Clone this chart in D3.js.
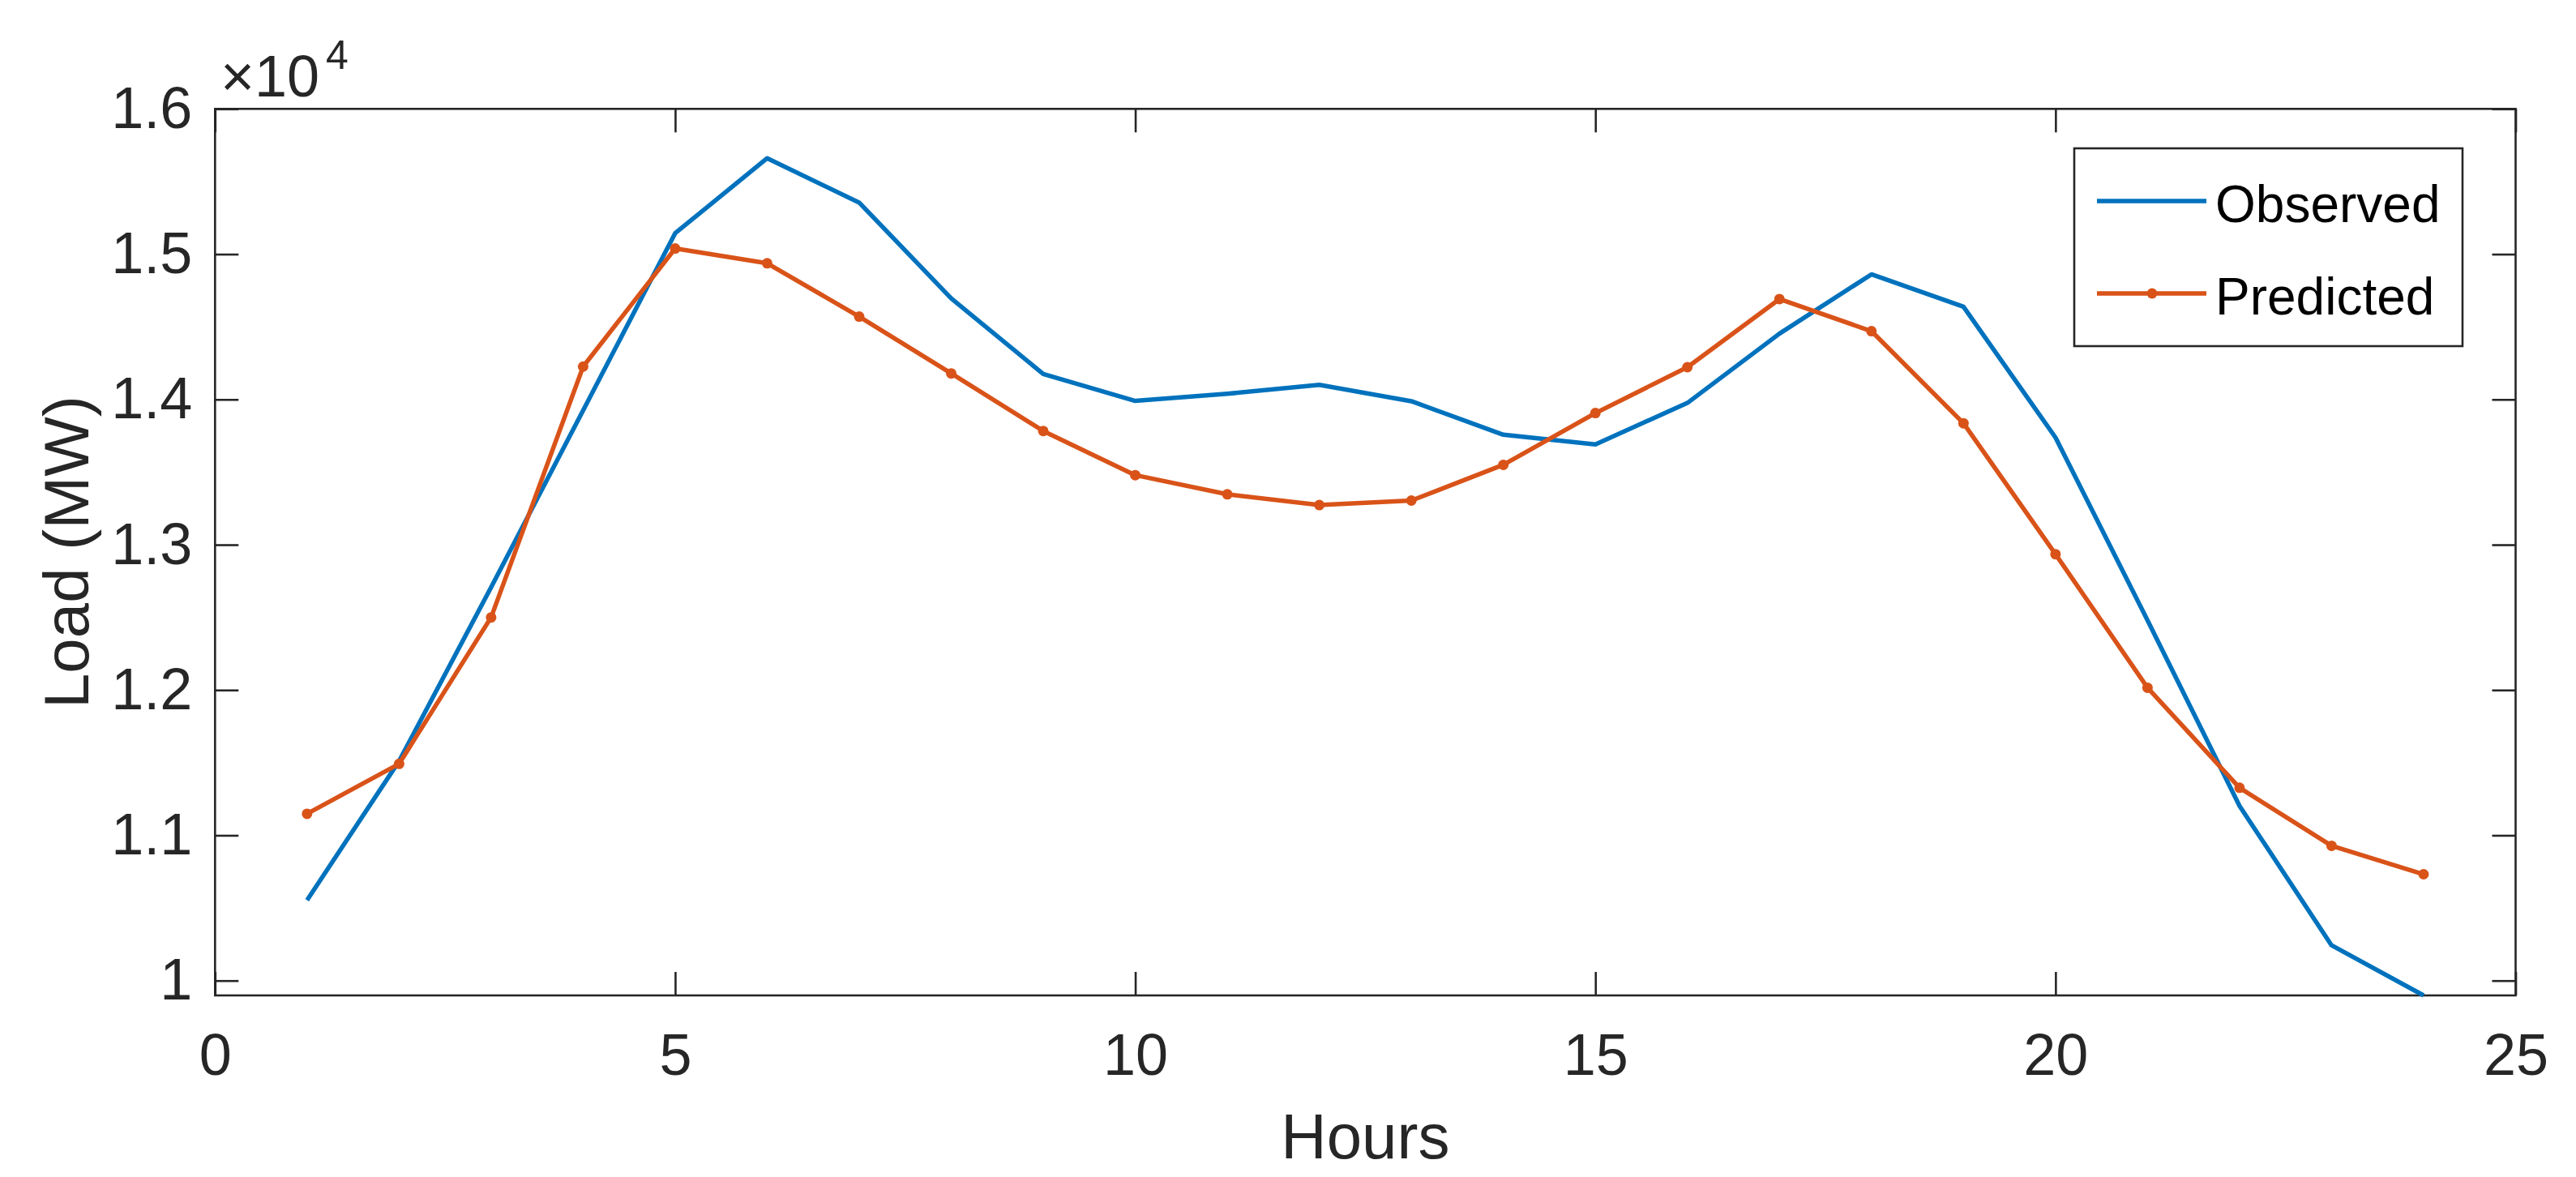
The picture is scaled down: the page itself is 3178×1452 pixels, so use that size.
<!DOCTYPE html>
<html>
<head>
<meta charset="utf-8">
<script src="https://cdn.jsdelivr.net/npm/d3@7"></script>
<style>
  html, body { margin: 0; padding: 0; background: #fff; }
  svg { display: block; }
</style>
</head>
<body>
<svg id="chart" width="3178" height="1452"></svg>
<script>
// ---- data ----
const hours = [1,2,3,4,5,6,7,8,9,10,11,12,13,14,15,16,17,18,19,20,21,22,23,24];
const observed = [10554, 11511, 12707, 13925, 15144, 15660, 15355, 14695, 14175, 13990, 14039, 14101,
                  13988, 13757, 13691, 13976, 14453, 14861, 14638, 13738, 12480, 11202, 10243, 9898];
const predicted = [11148, 11492, 12500, 14226, 15039, 14937, 14570, 14179, 13783, 13479, 13347, 13273,
                   13304, 13550, 13906, 14222, 14691, 14470, 13836, 12935, 12016, 11327, 10928, 10732];
const seriesNames = ["Observed", "Predicted"];
const xTicks = [0, 5, 10, 15, 20, 25];
const yTicks = [10000, 11000, 12000, 13000, 14000, 15000, 16000];
const yTickLabels = ["1", "1.1", "1.2", "1.3", "1.4", "1.5", "1.6"];
const xLabel = "Hours";
const yLabel = "Load (MW)";

// ---- layout ----
const pLeft = 265.3, pRight = 3103.5, pTop = 134.3, pBottom = 1228;
const axisColor = "#262626";
const blue = "#0072BD", orange = "#D95319";
const font = "'Liberation Sans', Arial, Helvetica, sans-serif";
const lineW = 5.5;

const svg = d3.select("#chart");
svg.append("rect").attr("width", 3178).attr("height", 1452).attr("fill", "#fff");

const x = d3.scaleLinear().domain([0, 25]).range([pLeft, pRight]);
const y = d3.scaleLinear().domain([d3.min(observed.concat(predicted)), 16000]).range([pBottom, pTop]);

const tickLen = 29;

function styleAxis(g) {
  g.select(".domain").remove();
  g.selectAll(".tick line").attr("stroke", axisColor).attr("stroke-width", 2.6);
  g.selectAll(".tick text").attr("fill", axisColor).style("font-family", font).style("font-size", "72px");
}

// bottom axis
svg.append("g").attr("transform", `translate(0,${pBottom})`)
  .call(d3.axisBottom(x).tickValues(xTicks).tickFormat(d3.format("d")).tickSizeInner(-tickLen).tickSizeOuter(0).tickPadding(47))
  .call(styleAxis);
// top axis (ticks only)
svg.append("g").attr("transform", `translate(0,${pTop})`)
  .call(d3.axisTop(x).tickValues(xTicks).tickFormat("").tickSizeInner(-tickLen).tickSizeOuter(0))
  .call(styleAxis);
// left axis
svg.append("g").attr("transform", `translate(${pLeft},0)`)
  .call(d3.axisLeft(y).tickValues(yTicks).tickFormat((d, i) => yTickLabels[i]).tickSizeInner(-tickLen).tickSizeOuter(0).tickPadding(28))
  .call(styleAxis);
// right axis (ticks only)
svg.append("g").attr("transform", `translate(${pRight},0)`)
  .call(d3.axisRight(y).tickValues(yTicks).tickFormat("").tickSizeInner(-tickLen).tickSizeOuter(0))
  .call(styleAxis);

// box
svg.append("rect")
  .attr("x", pLeft).attr("y", pTop)
  .attr("width", pRight - pLeft).attr("height", pBottom - pTop)
  .attr("fill", "none").attr("stroke", axisColor).attr("stroke-width", 2.6);

// exponent label
svg.append("text")
  .attr("x", 272).attr("y", 119)
  .attr("fill", axisColor)
  .style("font-family", font).style("font-size", "72px")
  .text("\u00D710");
svg.append("text")
  .attr("x", 402).attr("y", 85)
  .attr("fill", axisColor)
  .style("font-family", font).style("font-size", "50px")
  .text("4");

// axis labels
svg.append("text")
  .attr("x", (pLeft + pRight) / 2).attr("y", 1429)
  .attr("text-anchor", "middle")
  .attr("fill", axisColor)
  .style("font-family", font).style("font-size", "78px")
  .text(xLabel);
svg.append("text")
  .attr("transform", `translate(109,${(pTop + pBottom) / 2}) rotate(-90)`)
  .attr("text-anchor", "middle")
  .attr("fill", axisColor)
  .style("font-family", font).style("font-size", "78px")
  .text(yLabel);

// lines
const line = (vals) => d3.line().x((d, i) => x(hours[i])).y(d => y(d))(vals);

const plot = svg.append("g");
plot.append("path").attr("d", line(observed))
  .attr("fill", "none").attr("stroke", blue).attr("stroke-width", lineW).attr("stroke-linejoin", "round");
plot.append("path").attr("d", line(predicted))
  .attr("fill", "none").attr("stroke", orange).attr("stroke-width", lineW).attr("stroke-linejoin", "round");
plot.selectAll("circle.pm").data(predicted).enter().append("circle")
  .attr("class", "pm")
  .attr("cx", (d, i) => x(hours[i])).attr("cy", d => y(d))
  .attr("r", 6.5).attr("fill", orange);

// legend
const lg = svg.append("g");
lg.append("rect").attr("x", 2559).attr("y", 183).attr("width", 479).attr("height", 244)
  .attr("fill", "#fff").attr("stroke", axisColor).attr("stroke-width", 2.6);
const legendRows = [
  { name: seriesNames[0], color: blue, marker: false, ly: 248 },
  { name: seriesNames[1], color: orange, marker: true, ly: 362 }
];
legendRows.forEach(r => {
  lg.append("line").attr("x1", 2587).attr("x2", 2722).attr("y1", r.ly).attr("y2", r.ly)
    .attr("stroke", r.color).attr("stroke-width", lineW);
  if (r.marker) {
    lg.append("circle").attr("cx", 2655).attr("cy", r.ly).attr("r", 6.5).attr("fill", r.color);
  }
  lg.append("text").attr("x", 2733).attr("y", r.ly + 26)
    .attr("fill", "#000")
    .style("font-family", font).style("font-size", "64px")
    .text(r.name);
});
</script>
</body>
</html>
